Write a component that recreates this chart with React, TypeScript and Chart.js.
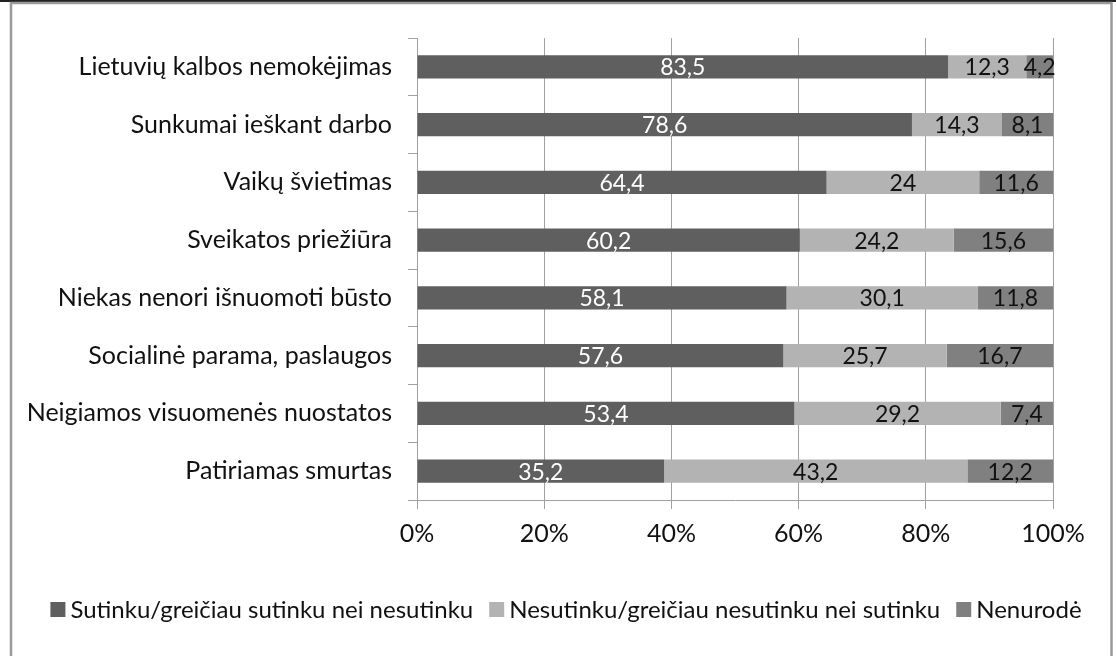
import React, { useEffect, useRef } from "react";
import { Chart, registerables } from "chart.js";

Chart.register(...registerables);

const categories = [
  "Lietuvių kalbos nemokėjimas",
  "Sunkumai ieškant darbo",
  "Vaikų švietimas",
  "Sveikatos priežiūra",
  "Niekas nenori išnuomoti būsto",
  "Socialinė parama, paslaugos",
  "Neigiamos visuomenės nuostatos",
  "Patiriamas smurtas",
];
const agree = [83.5, 78.6, 64.4, 60.2, 58.1, 57.6, 53.4, 35.2];
const disagree = [12.3, 14.3, 24, 24.2, 30.1, 25.7, 29.2, 43.2];
const notSpecified = [4.2, 8.1, 11.6, 15.6, 11.8, 16.7, 7.4, 12.2];
const seriesNames = [
  "Sutinku/greičiau sutinku nei nesutinku",
  "Nesutinku/greičiau nesutinku nei sutinku",
  "Nenurodė",
];
const seriesColors = ["#5f5f5f", "#b3b3b3", "#808080"];
const labelColors = ["#ffffff", "#111111", "#111111"];
const xTickValues = [0, 20, 40, 60, 80, 100];

const FONT = "Lato";

const rawSeries = [agree, disagree, notSpecified];
const totals = categories.map((_, i) => agree[i] + disagree[i] + notSpecified[i]);
const percentSeries = rawSeries.map((s) => s.map((v, i) => (v / totals[i]) * 100));

const fmt = (v: number) => String(v).replace(".", ",");

const frameAndLabels = {
  id: "frameAndLabels",
  beforeDraw(chart: any) {
    const { ctx, width, height } = chart;
    ctx.save();
    ctx.fillStyle = "#ffffff";
    ctx.fillRect(0, 0, width, height);
    ctx.restore();
  },
  afterDatasetsDraw(chart: any) {
    const { ctx } = chart;
    ctx.save();
    ctx.font = `23px ${FONT}`;
    ctx.textAlign = "center";
    ctx.textBaseline = "middle";
    chart.data.datasets.forEach((ds: any, di: number) => {
      const meta = chart.getDatasetMeta(di);
      meta.data.forEach((bar: any, i: number) => {
        const raw = rawSeries[di][i];
        const cx = (bar.x + bar.base) / 2;
        ctx.fillStyle = labelColors[di];
        ctx.fillText(fmt(raw), cx, bar.y + 1);
      });
    });
    ctx.restore();
  },
  afterDraw(chart: any) {
    const { ctx, width, height } = chart;
    ctx.save();
    // legend
    ctx.font = `24px ${FONT}`;
    ctx.textBaseline = "middle";
    ctx.textAlign = "left";
    const box = 15;
    const gapBoxText = 5;
    const gapItems = 16;
    const widths = seriesNames.map((n) => ctx.measureText(n).width);
    const total =
      widths.reduce((a, b) => a + b, 0) + seriesNames.length * (box + gapBoxText) + (seriesNames.length - 1) * gapItems;
    let x = 566 - total / 2;
    const cy = 609;
    seriesNames.forEach((n, i) => {
      ctx.fillStyle = seriesColors[i];
      ctx.fillRect(x, cy - 7, box, box);
      x += box + gapBoxText;
      ctx.fillStyle = "#111111";
      ctx.fillText(n, x, cy + 1);
      x += widths[i] + gapItems;
    });
    // frame
    ctx.fillStyle = "#222222";
    ctx.fillRect(0, 0, width, 2);
    ctx.strokeStyle = "#9a9a9a";
    ctx.lineWidth = 2.5;
    ctx.beginPath();
    ctx.moveTo(11, height + 5);
    ctx.lineTo(11, 3);
    ctx.lineTo(1111.5, 3);
    ctx.lineTo(1111.5, height + 5);
    ctx.stroke();
    ctx.restore();
  },
};

export default function App() {
  const ref = useRef<HTMLCanvasElement | null>(null);
  useEffect(() => {
    if (!ref.current) return;
    const chart = new Chart(ref.current, {
      type: "bar",
      data: {
        labels: categories,
        datasets: seriesNames.map((name, di) => ({
          label: name,
          data: percentSeries[di],
          backgroundColor: seriesColors[di],
          borderWidth: 0,
          categoryPercentage: 1,
          barPercentage: 0.4,
        })),
      },
      options: {
        indexAxis: "y",
        animation: false,
        responsive: false,
        maintainAspectRatio: false,
        layout: { padding: { left: 0, right: 63, top: 38, bottom: 67 } },
        plugins: {
          legend: { display: false },
          tooltip: { enabled: false },
        },
        scales: {
          x: {
            stacked: true,
            min: 0,
            max: 100,
            afterBuildTicks: (scale: any) => {
              scale.ticks = xTickValues.map((v) => ({ value: v }));
            },
            ticks: {
              callback: (v: any) => v + "%",
              font: { family: FONT, size: 25 },
              color: "#111111",
              padding: 10,
            },
            grid: {
              color: "#a0a0a0",
              lineWidth: 1,
              tickLength: 9,
            },
            border: { color: "#a0a0a0", width: 1 },
            afterFit: (scale: any) => {
              scale.height = 89;
            },
          },
          y: {
            stacked: true,
            ticks: {
              font: { family: FONT, size: 25 },
              color: "#111111",
              padding: 16,
            },
            grid: {
              drawOnChartArea: false,
              color: "#a0a0a0",
              tickLength: 9,
              offset: true,
            },
            border: { color: "#a0a0a0", width: 1 },
            afterFit: (scale: any) => {
              scale.width = 417;
            },
          },
        },
      } as any,
      plugins: [frameAndLabels],
    });
    return () => chart.destroy();
  }, []);
  return (
    <div style={{ position: "fixed", left: 0, top: 0, width: 1116, height: 656, background: "#fff" }}>
      <canvas ref={ref} width={1116} height={656} style={{ display: "block" }} />
    </div>
  );
}
